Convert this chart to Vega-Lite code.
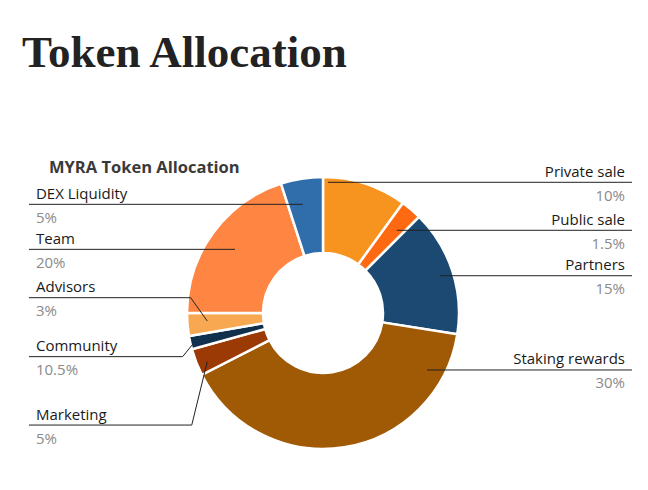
{
  "$schema": "https://vega.github.io/schema/vega-lite/v6.json",
  "width": 648,
  "height": 400,
  "autosize": {"type": "none"},
  "padding": {"top": 90, "left": 0, "right": 0, "bottom": 0},
  "background": "white",
  "title": {
    "text": "Token Allocation",
    "anchor": "start",
    "frame": "group",
    "dx": 22,
    "offset": -22,
    "baseline": "alphabetic",
    "font": "Liberation Serif",
    "fontSize": 45,
    "fontWeight": "bold",
    "color": "#222222"
  },
  "config": {"view": {"stroke": null}},
  "datasets": {
    "slices": [
      {"idx": 1, "label": "Private sale", "value": 10},
      {"idx": 2, "label": "Public sale", "value": 2.5},
      {"idx": 3, "label": "Partners", "value": 15},
      {"idx": 4, "label": "Staking rewards", "value": 40},
      {"idx": 5, "label": "Marketing", "value": 3.2},
      {"idx": 6, "label": "Community", "value": 1.6},
      {"idx": 7, "label": "Advisors", "value": 2.7},
      {"idx": 8, "label": "Team", "value": 20},
      {"idx": 9, "label": "DEX Liquidity", "value": 5}
    ],
    "leaders": [
      {"label": "Private sale", "pct": "10%", "side": "right", "seq": 0, "x": 2.272, "y": 0.961},
      {"label": "Private sale", "seq": 1, "x": 0.037, "y": 0.961},
      {"label": "Public sale", "pct": "1.5%", "side": "right", "seq": 0, "x": 2.272, "y": 0.608},
      {"label": "Public sale", "seq": 1, "x": 0.542, "y": 0.608},
      {"label": "Partners", "pct": "15%", "side": "right", "seq": 0, "x": 2.272, "y": 0.274},
      {"label": "Partners", "seq": 1, "x": 0.86, "y": 0.274},
      {"label": "Staking rewards", "pct": "30%", "side": "right", "seq": 0, "x": 2.272, "y": -0.419},
      {"label": "Staking rewards", "seq": 1, "x": 0.765, "y": -0.419},
      {"label": "DEX Liquidity", "pct": "5%", "side": "left", "seq": 0, "x": -2.162, "y": 0.799},
      {"label": "DEX Liquidity", "seq": 1, "x": -0.149, "y": 0.799},
      {"label": "Team", "pct": "20%", "side": "left", "seq": 0, "x": -2.162, "y": 0.468},
      {"label": "Team", "seq": 1, "x": -0.647, "y": 0.468},
      {"label": "Advisors", "pct": "3%", "side": "left", "seq": 0, "x": -2.162, "y": 0.1125},
      {"label": "Advisors", "seq": 1, "x": -0.973, "y": 0.1125},
      {"label": "Advisors", "seq": 2, "x": -0.851, "y": -0.059},
      {"label": "Community", "pct": "10.5%", "side": "left", "seq": 0, "x": -2.162, "y": -0.321},
      {"label": "Community", "seq": 1, "x": -1.032, "y": -0.321},
      {"label": "Community", "seq": 2, "x": -0.958, "y": -0.23},
      {"label": "Marketing", "pct": "5%", "side": "left", "seq": 0, "x": -2.162, "y": -0.824},
      {"label": "Marketing", "seq": 1, "x": -0.965, "y": -0.824},
      {"label": "Marketing", "seq": 2, "x": -0.851, "y": -0.358}
    ],
    "heading": [
      {"text": "MYRA Token Allocation", "x": -2.015, "y": 1.032}
    ]
  },
  "layer": [
    {
      "data": {"name": "slices"},
      "mark": {"type": "arc", "outerRadius": 136, "innerRadius": 60, "stroke": "white", "strokeWidth": 2.5},
      "encoding": {
        "theta": {"field": "value", "type": "quantitative", "stack": true},
        "order": {"field": "idx", "type": "quantitative"},
        "color": {
          "field": "label",
          "type": "nominal",
          "legend": null,
          "scale": {
            "domain": ["Private sale", "Public sale", "Partners", "Staking rewards", "Marketing", "Community", "Advisors", "Team", "DEX Liquidity"],
            "range": ["#F7931F", "#FF6912", "#1B4971", "#A05A05", "#9B3A05", "#11304D", "#F8A850", "#FF8542", "#2F6EAB"]
          }
        },
        "x": {"datum": 0, "type": "quantitative", "axis": null, "scale": {"domain": [-2.375, 2.3897], "nice": false, "zero": false}},
        "y": {"datum": 0, "type": "quantitative", "axis": null, "scale": {"domain": [-1.3015, 1.6397], "nice": false, "zero": false}}
      }
    },
    {
      "data": {"name": "leaders"},
      "mark": {"type": "line", "color": "#222222", "strokeWidth": 1},
      "encoding": {
        "x": {"field": "x", "type": "quantitative", "axis": null, "scale": {"domain": [-2.375, 2.3897], "nice": false, "zero": false}},
        "y": {"field": "y", "type": "quantitative", "axis": null, "scale": {"domain": [-1.3015, 1.6397], "nice": false, "zero": false}},
        "detail": {"field": "label", "type": "nominal"},
        "order": {"field": "seq", "type": "quantitative"}
      }
    },
    {
      "data": {"name": "leaders"},
      "transform": [{"filter": "datum.seq === 0 && datum.side === 'right'"}],
      "mark": {"type": "text", "align": "right", "baseline": "alphabetic", "dx": -7, "dy": -5.5, "font": "Open Sans", "fontSize": 15, "color": "#1a1a1a"},
      "encoding": {
        "x": {"field": "x", "type": "quantitative"},
        "y": {"field": "y", "type": "quantitative"},
        "text": {"field": "label"}
      }
    },
    {
      "data": {"name": "leaders"},
      "transform": [{"filter": "datum.seq === 0 && datum.side === 'right'"}],
      "mark": {"type": "text", "align": "right", "baseline": "alphabetic", "dx": -7, "dy": 18.5, "font": "Open Sans", "fontSize": 15, "color": "#8a8a8a"},
      "encoding": {
        "x": {"field": "x", "type": "quantitative"},
        "y": {"field": "y", "type": "quantitative"},
        "text": {"field": "pct"}
      }
    },
    {
      "data": {"name": "leaders"},
      "transform": [{"filter": "datum.seq === 0 && datum.side === 'left'"}],
      "mark": {"type": "text", "align": "left", "baseline": "alphabetic", "dx": 7, "dy": -5.5, "font": "Open Sans", "fontSize": 15, "color": "#1a1a1a"},
      "encoding": {
        "x": {"field": "x", "type": "quantitative"},
        "y": {"field": "y", "type": "quantitative"},
        "text": {"field": "label"}
      }
    },
    {
      "data": {"name": "leaders"},
      "transform": [{"filter": "datum.seq === 0 && datum.side === 'left'"}],
      "mark": {"type": "text", "align": "left", "baseline": "alphabetic", "dx": 7, "dy": 18.5, "font": "Open Sans", "fontSize": 15, "color": "#8a8a8a"},
      "encoding": {
        "x": {"field": "x", "type": "quantitative"},
        "y": {"field": "y", "type": "quantitative"},
        "text": {"field": "pct"}
      }
    },
    {
      "data": {"name": "heading"},
      "mark": {"type": "text", "align": "left", "baseline": "alphabetic", "font": "Open Sans", "fontSize": 16.5, "fontWeight": "bold", "color": "#3a3a3a"},
      "encoding": {
        "x": {"field": "x", "type": "quantitative"},
        "y": {"field": "y", "type": "quantitative"},
        "text": {"field": "text"}
      }
    }
  ]
}
